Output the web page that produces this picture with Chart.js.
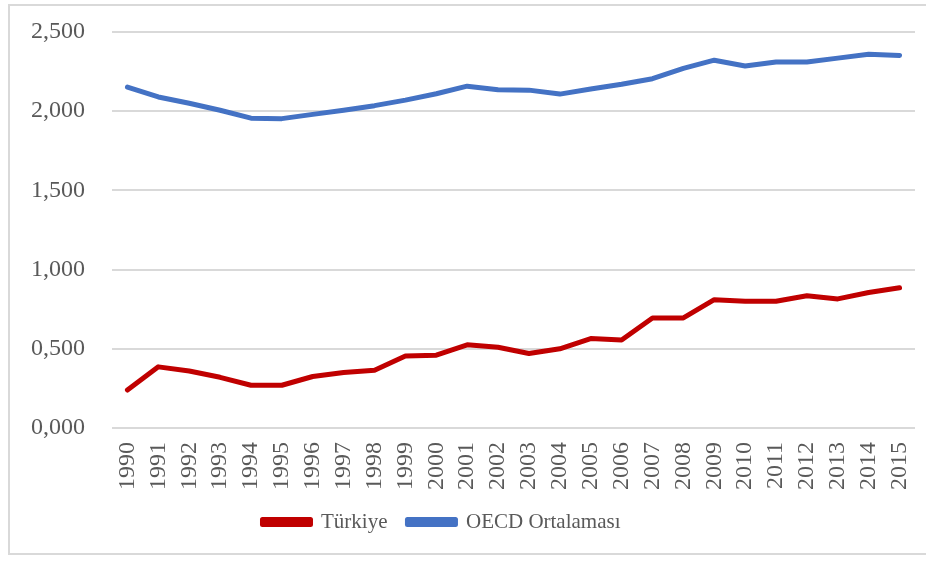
<!DOCTYPE html>
<html>
<head>
<meta charset="utf-8">
<script src="https://cdn.jsdelivr.net/npm/chart.js@4"></script>
<style>
  body { margin: 0; background: #fff; }
  #wrap { position: relative; width: 926px; height: 561px; overflow: hidden; }
  #frame { position: absolute; left: 8px; top: 4px; width: 930px; height: 551px; border: 2px solid #d9d9d9; box-sizing: border-box; }
  canvas { position: absolute; left: 0; top: 0; }
</style>
</head>
<body>
<div id="wrap">
  <div id="frame"></div>
  <canvas id="chart" width="926" height="561"></canvas>
</div>
<script>
const years = ['1990', '1991', '1992', '1993', '1994', '1995', '1996', '1997', '1998', '1999',
  '2000', '2001', '2002', '2003', '2004', '2005', '2006', '2007', '2008', '2009',
  '2010', '2011', '2012', '2013', '2014', '2015'];
const turkiye = [0.24, 0.386, 0.36, 0.32, 0.27, 0.27, 0.325, 0.35, 0.365, 0.455,
  0.46, 0.525, 0.51, 0.47, 0.50, 0.565, 0.556, 0.695, 0.695, 0.81,
  0.80, 0.80, 0.835, 0.815, 0.855, 0.885];
const oecd = [2.152, 2.09, 2.05, 2.006, 1.956, 1.953, 1.98, 2.006, 2.035, 2.07,
  2.11, 2.158, 2.135, 2.133, 2.108, 2.14, 2.17, 2.205, 2.27, 2.322,
  2.285, 2.31, 2.31, 2.335, 2.36, 2.352];
const yTicks = [0, 0.5, 1, 1.5, 2, 2.5];

const textColor = '#595959';
const serif = '"Liberation Serif", "Times New Roman", serif';

// nudge the legend left so it sits where Excel put it
const legendShift = {
    id: 'legendShift',
    afterLayout(chart) {
        if (chart.legend) {
            chart.legend.left -= 16;
            chart.legend.right -= 16;
        }
    }
};

// drop the label overhang padding so layout.padding alone sets the plot area
const noOverhang = s => {
    s.paddingTop = 0;
    s.paddingBottom = 0;
    s.paddingLeft = 0;
    s.paddingRight = 0;
};

new Chart(document.getElementById('chart'), {
    type: 'line',
    data: {
        labels: years,
        datasets: [
            {
                label: 'Türkiye',
                data: turkiye,
                borderColor: '#c00000',
                backgroundColor: '#c00000',
                borderWidth: 5,
                pointRadius: 0,
                borderCapStyle: 'round',
                borderJoinStyle: 'round'
            },
            {
                label: 'OECD Ortalaması',
                data: oecd,
                borderColor: '#4472c4',
                backgroundColor: '#4472c4',
                borderWidth: 5,
                pointRadius: 0,
                borderCapStyle: 'round',
                borderJoinStyle: 'round'
            }
        ]
    },
    options: {
        responsive: false,
        animation: false,
        devicePixelRatio: 1,
        layout: { padding: { top: 32, left: 0, right: 11, bottom: 18.5 } },
        scales: {
            x: {
                offset: true,
                grid: { display: false },
                border: { display: false },
                ticks: {
                    color: textColor,
                    font: { family: serif, size: 24 },
                    minRotation: 90,
                    maxRotation: 90,
                    padding: 6,
                    autoSkip: false
                },
                afterFit: s => { noOverhang(s); s.height = 63.5; }
            },
            y: {
                min: 0,
                max: 2.5,
                afterBuildTicks: s => { s.ticks = yTicks.map(v => ({ value: v })); },
                grid: { color: '#d9d9d9', lineWidth: 2, drawTicks: false },
                border: { display: false },
                ticks: {
                    color: textColor,
                    font: { family: serif, size: 24 },
                    padding: 27,
                    callback: v => v.toFixed(3).replace('.', ',')
                },
                afterFit: s => { noOverhang(s); s.width = 112; }
            }
        },
        plugins: {
            legend: {
                position: 'bottom',
                labels: {
                    color: textColor,
                    font: { family: serif, size: 21 },
                    boxWidth: 48,
                    boxHeight: 5,
                    padding: 20
                }
            },
            tooltip: { enabled: false }
        }
    },
    plugins: [legendShift]
});
</script>
</body>
</html>
